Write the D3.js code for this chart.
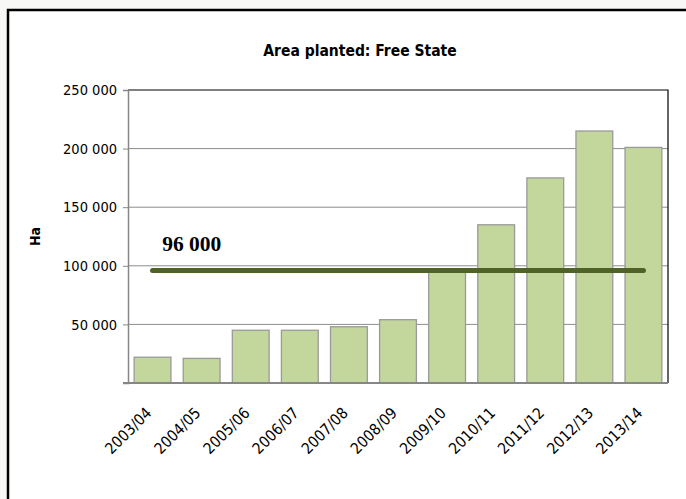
<!DOCTYPE html>
<html>
<head>
<meta charset="utf-8">
<script src="https://cdn.jsdelivr.net/npm/d3@7"></script>
<style>
  body { margin: 0; background: #f8f8f6; }
  svg { display: block; }
</style>
</head>
<body>
<div id="chart"></div>
<script>
// Data
const seasons = ['2003/04', '2004/05', '2005/06', '2006/07', '2007/08', '2008/09',
                 '2009/10', '2010/11', '2011/12', '2012/13', '2013/14'];
const areaPlanted = [22000, 21000, 45000, 45000, 48000, 54000, 95000, 135000, 175000, 215000, 201000];
const averageValue = 96000;
const yTicks = [50000, 100000, 150000, 200000, 250000];

const width = 686, height = 499;
const margin = { top: 90, right: 18, bottom: 116, left: 128 };
const FONT = '"DejaVu Sans Condensed", "Open Sans", sans-serif';

const svg = d3.select('#chart').append('svg')
    .attr('width', width)
    .attr('height', height);

// Outer chart frame (runs off the right and bottom of the picture)
svg.append('rect')
    .attr('x', 8).attr('y', 10)
    .attr('width', width + 10).attr('height', height + 10)
    .attr('fill', '#fff')
    .attr('stroke', '#000')
    .attr('stroke-width', 2.5);

const x = d3.scaleBand()
    .domain(seasons)
    .range([margin.left, width - margin.right])
    .paddingInner(0.25)
    .paddingOuter(0.125);

const y = d3.scaleLinear()
    .domain([0, 250000])
    .range([height - margin.bottom, margin.top]);

const fmt = v => d3.format(',')(v).replace(/,/g, ' ');

// Gridlines
svg.append('g')
    .selectAll('line')
    .data(yTicks.slice(0, -1))
    .enter().append('line')
    .attr('x1', margin.left).attr('x2', width - margin.right)
    .attr('y1', d => y(d)).attr('y2', d => y(d))
    .attr('stroke', '#8c8c8c')
    .attr('stroke-width', 1);

// Plot area border (top / right)
svg.append('path')
    .attr('d', `M${margin.left},${y(250000)}H${width - margin.right}V${y(0)}`)
    .attr('fill', 'none')
    .attr('stroke', '#000')
    .attr('stroke-width', 1.2);

// Bars
svg.append('g')
    .selectAll('rect')
    .data(areaPlanted)
    .enter().append('rect')
    .attr('x', (d, i) => x(seasons[i]))
    .attr('y', d => y(d))
    .attr('width', x.bandwidth())
    .attr('height', d => y(0) - y(d))
    .attr('fill', '#c3d69b')
    .attr('stroke', '#9a9a9a')
    .attr('stroke-width', 1.3);

// Y axis
const yAxis = svg.append('g')
    .attr('transform', `translate(${margin.left},0)`)
    .call(d3.axisLeft(y).tickValues([0].concat(yTicks)).tickSize(5).tickPadding(6)
        .tickFormat(d => d === 0 ? '' : fmt(d)));
yAxis.select('.domain').attr('stroke', '#868686').attr('stroke-width', 1.5);
yAxis.selectAll('.tick line').attr('stroke', '#868686');
yAxis.selectAll('text')
    .attr('font-family', FONT)
    .attr('font-size', 14.5)
    .attr('fill', '#000');

// X axis
const xAxis = svg.append('g')
    .attr('transform', `translate(0,${y(0)})`)
    .call(d3.axisBottom(x).tickSize(0).tickPadding(0));
xAxis.select('.domain').attr('stroke', '#868686').attr('stroke-width', 2)
    .attr('d', `M${margin.left - 5},0H${width - margin.right}`);
xAxis.selectAll('text')
    .attr('font-family', FONT)
    .attr('font-size', 15.5)
    .attr('fill', '#000')
    .attr('text-anchor', 'end')
    .attr('dy', 0)
    .attr('transform', 'translate(0,31) rotate(-45)');

// Average line
const avgLine = d3.line()
    .x(d => x(d) + x.bandwidth() / 2)
    .y(() => y(averageValue));

svg.append('path')
    .datum(seasons)
    .attr('d', avgLine)
    .attr('fill', 'none')
    .attr('stroke', '#4f6228')
    .attr('stroke-width', 5)
    .attr('stroke-linecap', 'round');

svg.append('text')
    .attr('x', x(seasons[0]) + 28)
    .attr('y', y(averageValue) - 19)
    .attr('font-family', '"Liberation Serif", serif')
    .attr('font-weight', 'bold')
    .attr('font-size', 21.5)
    .text(fmt(averageValue));

// Title
svg.append('text')
    .attr('x', 360)
    .attr('y', 56)
    .attr('text-anchor', 'middle')
    .attr('font-family', FONT)
    .attr('font-weight', 'bold')
    .attr('font-size', 15.5)
    .text('Area planted: Free State');

// Y axis title
svg.append('text')
    .attr('transform', `translate(40,${(y(0) + y(250000)) / 2}) rotate(-90)`)
    .attr('text-anchor', 'middle')
    .attr('font-family', FONT)
    .attr('font-weight', 'bold')
    .attr('font-size', 14)
    .text('Ha');
</script>
</body>
</html>
